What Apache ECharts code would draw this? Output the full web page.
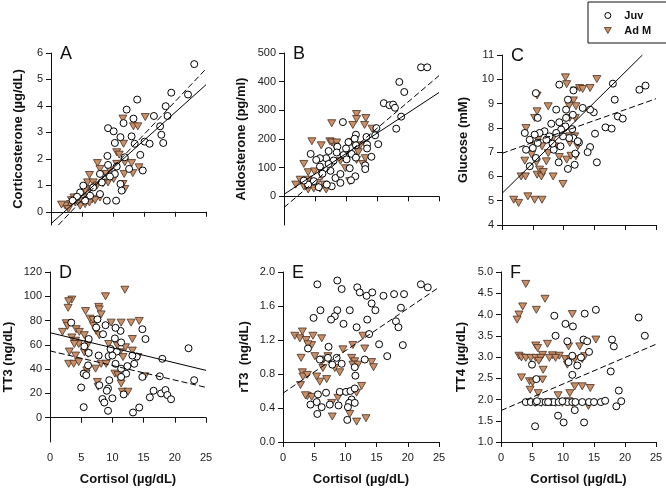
<!DOCTYPE html>
<html>
<head>
<meta charset="utf-8">
<script src="https://cdn.jsdelivr.net/npm/echarts@6/dist/echarts.min.js"></script>
<style>
html, body { margin: 0; padding: 0; background: #fff; }
#main { width: 666px; height: 488px; }
</style>
</head>
<body>
<div id="main"></div>
<script>
// cortisol (x) vs hormone (y), one pair of arrays per panel
var juvA = [[23.1,5.58],[22.1,4.43],[19.4,4.5],[18.5,3.99],[18.8,3.62],[17.6,3.23],[17.8,2.91],[18.1,2.6],[16.6,3.62],[13.9,4.24],[12.2,3.86],[13.3,3.52],[11.7,3.35],[9.2,3.16],[10.1,3.04],[11.2,2.82],[13.0,2.85],[10.3,2.6],[13.5,2.57],[15.1,2.65],[15.9,2.57],[14.4,2.15],[14.8,1.56],[11.9,2.06],[9.1,2.11],[9.2,1.77],[10.6,1.71],[10.3,1.43],[11.2,1.05],[11.4,0.8],[9.0,0.42],[10.5,0.42],[7.9,0.67],[6.8,0.92],[5.2,0.99],[4.7,0.73],[6.3,0.61],[8.2,1.11],[9.5,1.33],[7.9,1.43],[4.2,0.57],[3.5,0.42],[5.5,0.42],[12.6,1.62]];
var admA = [[11.6,3.52],[13.3,3.23],[14.0,3.23],[15.2,3.58],[11.7,2.57],[10.6,2.25],[11.0,2.16],[11.9,1.87],[13.0,1.84],[14.2,1.68],[13.2,1.46],[11.8,1.43],[10.6,1.81],[7.5,1.84],[7.9,1.62],[8.9,1.43],[9.5,1.56],[10.1,1.24],[9.2,1.11],[8.4,1.08],[6.2,1.39],[5.9,1.11],[6.8,1.11],[7.4,0.99],[6.2,0.86],[5.5,0.8],[7.9,0.54],[6.7,0.48],[5.8,0.54],[4.9,0.42],[4.4,0.54],[3.9,0.35],[3.1,0.29],[2.3,0.23],[1.7,0.27],[2.8,0.1],[4.7,0.23],[5.5,0.29],[6.2,0.35],[7.1,0.44],[11.9,0.86],[11.6,1.05],[3.7,0.54],[3.3,0.44]];
var solidA = [[0,-0.45],[25,4.8]];
var dashA = [[1.2,-0.5],[25,5.4]];

var juvB = [[22.1,450],[23.1,450],[18.6,399],[19.4,364],[16.1,325],[17.0,318],[17.6,320],[17.9,309],[18.9,278],[18.1,236],[14.9,238],[14.7,213],[13.3,207],[15.2,182],[13.4,181],[14.1,138],[13.1,108],[13.1,95],[11.6,215],[11.4,201],[11.6,178],[10.4,189],[10.0,167],[10.9,148],[9.6,144],[8.6,173],[9.5,259],[8.5,153],[8.0,125],[7.2,158],[6.8,133],[7.2,113],[5.8,133],[5.2,127],[4.3,148],[5.8,104],[6.2,79],[7.5,89],[8.3,64],[7.7,35],[9.1,47],[9.1,78],[10.6,98],[11.5,70],[10.8,56],[10.1,129],[11.6,135],[13.4,167],[4.8,53],[3.9,41],[5.6,32],[3.2,55],[6.9,41]];
var admB = [[7.7,255],[11.1,249],[11.7,287],[11.7,270],[13.2,273],[13.0,249],[14.2,236],[4.5,192],[6.0,178],[7.4,192],[7.7,188],[8.5,188],[8.3,173],[10.9,190],[11.2,138],[11.7,127],[12.7,113],[13.1,133],[3.2,113],[3.9,84],[4.9,87],[5.9,90],[2.6,58],[1.9,41],[3.2,35],[3.9,24],[4.8,27],[5.8,27],[6.5,41],[6.8,24],[5.3,47],[10.6,53],[9.9,98],[9.1,124],[12.0,154],[6.1,70],[3.9,58],[12.3,178]];
var solidB = [[0,7],[25,362]];
var dashB = [[0,-39],[25,421]];

var juvC = [[23.3,9.74],[22.3,9.57],[18.0,9.82],[18.3,9.16],[18.8,8.47],[19.6,8.38],[16.8,8.02],[17.8,7.97],[15.1,7.76],[15.4,6.58],[14.3,7.21],[13.9,7.0],[14.9,8.64],[14.3,8.75],[13.1,8.82],[11.6,9.54],[10.7,9.16],[9.3,9.78],[10.4,8.75],[11.5,8.54],[10.4,8.41],[10.3,8.06],[9.6,7.93],[11.4,7.95],[11.6,7.58],[12.5,7.4],[10.9,7.58],[9.9,7.65],[9.5,7.24],[8.8,7.79],[8.0,8.17],[8.8,8.75],[7.7,7.65],[6.9,7.86],[7.2,7.51],[6.1,7.79],[5.3,7.72],[4.5,7.51],[3.7,7.79],[5.5,9.43],[5.8,8.41],[3.9,7.1],[5.0,7.17],[5.8,7.38],[4.5,6.42],[5.5,6.76],[8.4,7.1],[9.2,6.58],[10.7,6.31],[11.8,6.48],[11.9,6.94],[12.3,7.45],[8.2,7.35],[9.3,8.23]];
var admC = [[10.3,10.08],[10.5,9.8],[15.4,10.01],[11.8,9.54],[12.6,9.64],[11.6,9.13],[12.0,8.89],[10.9,8.91],[13.1,9.6],[14.3,9.64],[5.7,9.33],[5.7,8.68],[5.3,8.41],[7.5,8.89],[3.9,7.99],[11.0,8.41],[11.9,8.41],[11.0,7.65],[11.8,7.65],[11.0,7.38],[12.3,7.24],[5.8,7.51],[5.3,7.31],[6.5,7.24],[8.2,7.54],[8.5,7.24],[9.3,6.8],[7.5,6.96],[3.7,6.65],[4.8,6.9],[5.6,6.58],[6.1,6.28],[5.7,6.07],[6.4,6.0],[7.2,6.62],[3.1,6.0],[3.8,6.0],[6.7,6.18],[8.3,6.0],[9.9,5.69],[10.5,6.69],[11.2,6.85],[12.0,6.83],[1.9,5.04],[2.7,4.91],[4.2,5.18],[5.3,5.04],[6.5,5.04]];
var solidC = [[0,5.3],[22.8,11]];
var dashC = [[0,6.95],[25,9.2]];

var juvD = [[22.2,57.2],[23.1,30.9],[18.0,48.5],[17.6,34.1],[16.6,22.2],[16.0,16.8],[17.8,20],[18.5,22.8],[18.8,18.7],[19.4,15.2],[14.8,72.9],[15.3,64.8],[14.8,33.6],[14.3,8.4],[13.3,4.3],[13.5,44.4],[13.9,50.4],[13.2,51.2],[12.2,36.3],[11.8,19.2],[11.4,33.6],[11.4,40.4],[11.4,62],[11.3,71.5],[10.5,74],[10.4,65.3],[10.7,54.5],[10.5,44.4],[9.7,56.6],[9.4,50.7],[9.5,30.9],[9.3,24.1],[9.1,22.2],[10.0,16],[8.4,15.4],[8.7,12.5],[9.3,5.7],[8.9,76.2],[8.5,68.8],[7.9,26.8],[7.6,81],[7.4,74.3],[7.8,51.2],[6.2,64.8],[6.1,43.1],[5.4,36.3],[5.0,24.9],[5.4,8.7],[3.4,78.3],[5.5,58.8],[6.2,53.4],[5.8,35],[12.4,42.5],[10.0,51.2]];
var admD = [[12.0,105.4],[8.9,100],[3.5,97.3],[3.0,95.9],[2.9,90.5],[5.7,87.8],[7.8,91.3],[7.9,89.2],[8.2,85.1],[6.4,81.6],[6.9,80.5],[9.8,78.3],[11.4,78.3],[13.0,78.3],[14.3,79.7],[2.6,77.8],[2.8,75.6],[2.0,70.7],[4.2,72.9],[4.7,70.7],[7.0,75.6],[7.4,71.5],[7.9,68],[5.5,68],[3.5,66.1],[4.1,63.4],[4.6,60.7],[3.9,60.7],[6.1,60.7],[5.5,53.9],[3.1,54.5],[4.1,51.2],[3.0,44.4],[3.8,44.4],[4.6,45.8],[6.1,52.6],[7.3,40.4],[8.2,44.4],[9.0,44.4],[9.4,60.7],[10.8,59.3],[11.2,53.9],[12.1,58],[11.7,49.9],[13.2,64.8],[13.2,55.3],[14.1,49.9],[10.4,36.3],[10.9,35],[11.4,28.2],[11.6,21.4],[12.5,21.4],[15.2,34.1],[7.6,29.5],[7.7,25.5],[5.9,39],[5.8,36.3]];
var solidD = [[0,70],[25,39]];
var dashD = [[0,55],[25,25]];

var juvE = [[5.5,1.855],[8.7,1.9],[9.4,1.8],[11.9,1.82],[12.3,1.76],[13.4,1.72],[14.3,1.76],[16.1,1.72],[17.8,1.74],[19.4,1.74],[22.1,1.855],[23.2,1.82],[14.2,1.63],[14.8,1.55],[18.9,1.58],[6.0,1.55],[4.9,1.46],[8.7,1.55],[8.3,1.48],[7.7,1.44],[10.7,1.55],[9.7,1.39],[11.8,1.35],[13.5,1.44],[13.8,1.27],[18.1,1.42],[18.5,1.35],[15.4,1.15],[16.7,1.01],[19.2,1.14],[4.0,1.1],[7.3,1.12],[5.9,0.97],[7.2,0.99],[8.6,0.99],[7.9,0.91],[9.4,0.92],[11.5,0.88],[13.1,0.97],[11.6,0.78],[9.1,0.59],[10.1,0.59],[10.8,0.6],[11.5,0.63],[11.0,0.5],[10.6,0.46],[10.4,0.41],[10.3,0.26],[11.5,0.46],[8.9,0.43],[6.9,0.58],[5.6,0.56],[5.4,0.47],[4.4,0.44],[6.2,0.41],[5.5,0.33],[7.5,0.44]];
var admE = [[3.1,1.3],[1.9,1.25],[2.7,1.22],[3.7,1.2],[4.6,1.14],[4.0,1.15],[6.2,1.22],[4.8,1.25],[2.9,0.99],[5.1,1.01],[6.5,0.97],[7.2,1.01],[6.2,0.95],[6.4,0.87],[7.0,0.74],[5.9,0.71],[3.1,0.82],[3.2,0.77],[3.9,0.79],[2.8,0.67],[5.4,0.77],[3.9,0.54],[4.6,0.53],[3.6,0.55],[7.8,0.46],[7.9,0.3],[8.8,0.52],[9.1,0.82],[8.3,0.87],[9.6,1.09],[11.2,1.14],[12.8,1.25],[13.1,1.1],[11.0,0.99],[11.5,0.95],[11.2,0.91],[12.0,0.91],[14.2,0.94],[14.5,0.88],[10.7,0.33],[11.8,0.24],[13.3,0.28],[12.6,0.66],[11.8,0.58]];
var dashE = [[0,0.575],[25,1.82]];

var juvF = [[22.2,3.93],[23.2,3.5],[15.3,4.11],[13.5,4.02],[8.6,3.97],[8.8,3.5],[10.4,3.78],[11.6,3.72],[10.7,3.37],[13.3,3.41],[13.9,3.37],[17.9,3.41],[18.2,3.25],[17.7,2.66],[19.0,2.21],[14.2,3.12],[12.9,2.99],[11.5,3.03],[12.3,2.8],[11.5,2.58],[5.0,2.82],[5.7,2.48],[10.9,2.88],[4.0,1.94],[4.8,1.94],[5.6,1.94],[6.4,1.94],[7.2,1.94],[8.0,1.94],[8.5,1.94],[9.3,1.94],[10.7,1.94],[11.5,1.94],[12.0,1.94],[13.1,1.94],[14.2,1.94],[15.0,1.94],[16.1,1.94],[16.8,1.97],[19.4,1.96],[18.6,1.84],[9.2,1.62],[10.1,1.46],[11.9,1.75],[13.4,1.46],[5.5,1.37],[9.9,1.96],[5.8,1.96],[7.6,1.94]];
var admF = [[4.0,4.72],[7.1,4.37],[3.5,4.19],[5.7,4.11],[2.9,4.0],[2.6,3.88],[11.5,4.01],[15.3,3.41],[5.6,3.27],[5.9,3.21],[7.5,3.31],[10.9,3.25],[12.7,3.25],[8.3,3.04],[9.4,3.03],[10.4,2.95],[10.7,2.82],[11.2,2.95],[13.1,2.95],[11.9,2.95],[13.5,3.02],[2.9,3.03],[3.3,2.99],[4.0,2.98],[4.8,2.98],[5.6,2.98],[6.7,3.05],[6.4,2.98],[7.8,2.98],[8.8,2.98],[6.1,2.91],[6.8,2.7],[3.3,2.52],[4.6,2.43],[5.1,2.4],[6.7,2.47],[4.7,2.23],[6.0,2.15],[9.2,2.1],[11.1,2.15],[11.9,2.31],[13.1,2.31],[14.4,2.27],[10.9,1.96],[14.1,1.85],[6.5,1.92],[11.5,1.92],[5.5,1.92],[8.8,1.92],[9.9,1.92]];
var dashF = [[0,1.74],[25,3.3]];

var xTicks = [0, 5, 10, 15, 20, 25];
var panelLetters = ['A', 'B', 'C', 'D', 'E', 'F'];
var yNames = ['Corticosterone (\u00b5g/dL)', 'Aldosterone (pg/ml)', 'Glucose (mM)', 'TT3 (ng/dL)', 'rT3  (ng/dL)', 'TT4 (\u00b5g/dL)'];
var yTicksA = [0, 1, 2, 3, 4, 5, 6];
var yTicksB = [0, 100, 200, 300, 400, 500];
var yTicksC = [4, 5, 6, 7, 8, 9, 10, 11];
var yTicksD = [0, 20, 40, 60, 80, 100, 120];
var yTicksE = [0, 0.4, 0.8, 1.2, 1.6, 2.0];
var yTicksF = [1, 1.5, 2, 2.5, 3, 3.5, 4, 4.5, 5];

var FONT = 'Liberation Sans, Arial, sans-serif';
var TRI = 'path://M0,0L10,0L5,8.7Z';

var panels = [
	{ grid: {left: 51, top: 53, width: 155, height: 172}, min: -0.5, max: 6, ticks: yTicksA, dec: 0, gap: 26, juv: juvA, adm: admA, solid: solidA, dash: dashA, xlab: false },
	{ grid: {left: 284, top: 53, width: 155, height: 172}, min: -100, max: 500, ticks: yTicksB, dec: 0, gap: 36, juv: juvB, adm: admB, solid: solidB, dash: dashB, xlab: false },
	{ grid: {left: 502, top: 55, width: 154, height: 170}, min: 4, max: 11, ticks: yTicksC, dec: 0, gap: 32, juv: juvC, adm: admC, solid: solidC, dash: dashC, xlab: false },
	{ grid: {left: 50, top: 272, width: 156, height: 170}, min: -20, max: 120, ticks: yTicksD, dec: 0, gap: 35, juv: juvD, adm: admD, solid: solidD, dash: dashD, xlab: true },
	{ grid: {left: 283, top: 272, width: 156, height: 170}, min: 0, max: 2, ticks: yTicksE, dec: 1, gap: 32, juv: juvE, adm: admE, solid: null, dash: dashE, xlab: true },
	{ grid: {left: 501, top: 272, width: 155, height: 170}, min: 1, max: 5, ticks: yTicksF, dec: 1, gap: 33, juv: juvF, adm: admF, solid: null, dash: dashF, xlab: true }
];

var buildOption = function(){
	var grid = [], xAxis = [], yAxis = [], series = [], graphic = [];
	var axisLine = { lineStyle: { color: '#111', width: 1 } };
	var tickStyle = { color: '#111', width: 1 };

	for (var i = 0; i < panels.length; i++) {
		var p = panels[i];
		grid.push(p.grid);

		xAxis.push({
			gridIndex: i, type: 'value', min: 0, max: 25,
			splitLine: { show: false },
			axisLine: axisLine,
			axisTick: { length: 5, lineStyle: tickStyle, customValues: xTicks },
			axisLabel: { show: p.xlab, customValues: xTicks, margin: 10, color: '#222', fontSize: 11, fontFamily: FONT },
			name: p.xlab ? 'Cortisol (\u00b5g/dL)' : '',
			nameLocation: 'middle', nameGap: 31,
			nameTextStyle: { fontSize: 13, fontWeight: 'bold', color: '#111', fontFamily: FONT }
		});

		(function(dec){
			yAxis.push({
				gridIndex: i, type: 'value', min: p.min, max: p.max,
				splitLine: { show: false },
				axisLine: axisLine,
				axisTick: { length: 5, lineStyle: tickStyle, customValues: p.ticks },
				axisLabel: {
					customValues: p.ticks, margin: 8, color: '#222', fontSize: 11, fontFamily: FONT,
					formatter: function(v){ return Number(v).toFixed(dec); }
				},
				name: yNames[i], nameLocation: 'middle', nameGap: p.gap,
				nameTextStyle: { fontSize: 13, fontWeight: 'bold', color: '#111', fontFamily: FONT }
			});
		})(p.dec);

		series.push({
			name: 'Ad M', type: 'scatter', xAxisIndex: i, yAxisIndex: i,
			symbol: TRI, symbolSize: [8, 7], data: p.adm,
			itemStyle: { color: '#c8906a', borderColor: '#4a3020', borderWidth: 0.8, opacity: 1 },
			emphasis: { disabled: true }, z: 2
		});
		series.push({
			name: 'Juv', type: 'scatter', xAxisIndex: i, yAxisIndex: i,
			symbol: 'circle', symbolSize: 7, data: p.juv,
			itemStyle: { color: '#fff', borderColor: '#000', borderWidth: 1, opacity: 1 },
			emphasis: { disabled: true }, z: 3
		});
		if (p.solid) {
			series.push({
				type: 'line', xAxisIndex: i, yAxisIndex: i, data: p.solid,
				symbol: 'none', lineStyle: { color: '#000', width: 1 }, z: 4, silent: true
			});
		}
		series.push({
			type: 'line', xAxisIndex: i, yAxisIndex: i, data: p.dash,
			symbol: 'none', lineStyle: { color: '#000', width: 1, type: [6, 3] }, z: 4, silent: true
		});

		graphic.push({
			type: 'text', left: p.grid.left + 9, top: p.grid.top - 8,
			style: { text: panelLetters[i], fontSize: 18, fill: '#111', fontFamily: FONT }
		});
	}

	return {
		backgroundColor: '#fff',
		animation: false,
		grid: grid,
		xAxis: xAxis,
		yAxis: yAxis,
		series: series,
		graphic: graphic,
		legend: {
			left: 588, top: 2, orient: 'vertical',
			data: [
				{ name: 'Juv', icon: 'circle', itemStyle: { color: '#fff', borderColor: '#000', borderWidth: 1 } },
				{ name: 'Ad M', icon: TRI, itemStyle: { color: '#c8906a', borderColor: '#4a3020', borderWidth: 0.8 } }
			],
			itemWidth: 7, itemHeight: 6, itemGap: 4,
			padding: [8, 27, 7, 16],
			borderColor: '#111', borderWidth: 1, borderRadius: 0,
			selectedMode: false,
			textStyle: { fontSize: 11, fontWeight: 'bold', color: '#111', fontFamily: FONT, padding: [0, 0, 0, 8] }
		}
	};
};

function draw_chart(){
	var chart = echarts.init(document.getElementById('main'), null, { renderer: 'canvas' });
	chart.setOption(buildOption(), true);
}

draw_chart();
</script>
</body>
</html>
